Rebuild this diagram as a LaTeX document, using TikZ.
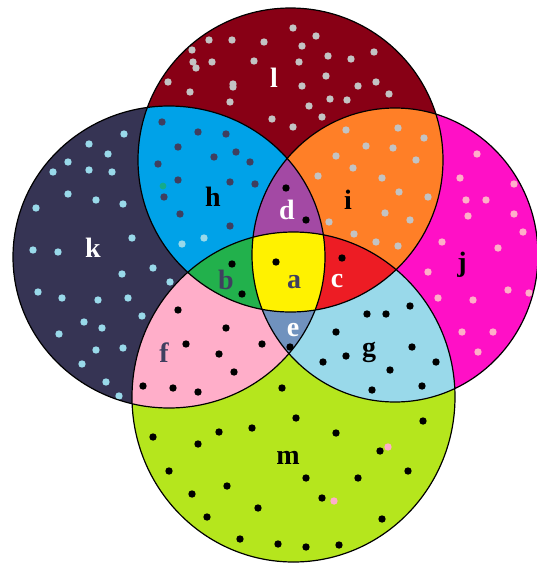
\documentclass[tikz,border=0pt]{standalone}
\usepackage{fontspec}
\setmainfont{Liberation Serif}
\usetikzlibrary{positioning}
\definecolor{onlyT}{RGB}{136,0,21}
\definecolor{onlyL}{RGB}{54,52,84}
\definecolor{onlyR}{RGB}{255,16,198}
\definecolor{onlyB}{RGB}{181,230,29}
\definecolor{pairTL}{RGB}{0,162,232}
\definecolor{pairTR}{RGB}{255,127,39}
\definecolor{pairLB}{RGB}{255,174,201}
\definecolor{pairRB}{RGB}{153,217,234}
\definecolor{tripTLR}{RGB}{163,73,164}
\definecolor{tripTLB}{RGB}{34,177,76}
\definecolor{tripTRB}{RGB}{237,28,36}
\definecolor{tripLRB}{RGB}{112,146,190}
\definecolor{allfour}{RGB}{255,242,0}
\definecolor{dotgrey}{RGB}{195,195,195}
\definecolor{dotnavy}{RGB}{63,63,95}
\def\shapeT{(290.5,160) ellipse [x radius=152.5pt, y radius=152pt]}
\def\shapeL{(169,257) ellipse [x radius=156pt, y radius=151pt]}
\def\shapeR{(395,255) ellipse [x radius=143pt, y radius=147pt]}
\def\shapeB{(293.5,397) ellipse [x radius=161.5pt, y radius=165pt]}

\begin{document}
\begin{tikzpicture}[x=1pt,y=-1pt,
  letter/.style={font=\fontsize{28}{28}\selectfont\bfseries,inner sep=0pt,text=#1},
  spot/.style={fill=#1}]
  \useasboundingbox (0,0) rectangle (537,566);
  \clip (0,0) rectangle (537,566);
  % ---------------- one set only ----------------
  \fill[onlyT] \shapeT;
  \fill[onlyL] \shapeL;
  \fill[onlyR] \shapeR;
  \fill[onlyB] \shapeB;
  % ---------------- two sets ----------------
  \begin{scope} \clip \shapeT; \fill[pairTL] \shapeL; \fill[pairTR] \shapeR; \end{scope}
  \begin{scope} \clip \shapeB; \fill[pairLB] \shapeL; \fill[pairRB] \shapeR; \end{scope}
  % ---------------- three sets ----------------
  \begin{scope} \clip \shapeT; \clip \shapeL; \fill[tripTLR] \shapeR; \end{scope}
  \begin{scope} \clip \shapeT; \clip \shapeL; \fill[tripTLB] \shapeB; \end{scope}
  \begin{scope} \clip \shapeT; \clip \shapeR; \fill[tripTRB] \shapeB; \end{scope}
  \begin{scope} \clip \shapeL; \clip \shapeR; \fill[tripLRB] \shapeB; \end{scope}
  % ---------------- all four ----------------
  \begin{scope} \clip \shapeT; \clip \shapeL; \clip \shapeR; \fill[allfour] \shapeB; \end{scope}
  % ---------------- dots ----------------
  \foreach \px/\py in {293/28, 316/36, 209/40, 232/40, 264/42, 302/46, 192/50, 374/52, 328/56, 351/59,
      193/62, 196/68, 212/62, 254/61, 299/62, 326/76, 168/82, 233/84, 233/87, 302/86, 376/82, 358/86,
      190/92, 389/94, 330/99, 347/100, 230/102, 309/106, 322/117, 272/119, 293/127,
      346/130, 398/128, 424/138, 366/146, 393/148, 336/156, 416/160, 353/168, 318/176, 382/178,
      399/192, 428/197, 385/213, 410/220, 329/222, 354/234, 376/242, 398/246}
    \fill[spot=dotgrey] (\px,\py) circle[radius=3.7pt];
  \foreach \px/\py in {162/122, 198/132, 226/134, 178/147, 236/152, 214/157, 158/164, 250/162,
      178/180, 230/182, 255/184, 164/197, 180/214, 230/226}
    \fill[spot=dotnavy] (\px,\py) circle[radius=3.7pt];
  \fill[spot=pairTL!40!tripTLB] (163,186) circle[radius=3.4pt];
  \foreach \px/\py in {182/244, 204/238, 124/134, 89/144, 108/154, 68/162, 53/172, 89/170, 112/172,
      68/194, 96/200, 123/204, 36/208, 132/238, 33/250, 58/252, 153/268, 122/274, 170/282, 38/292,
      62/298, 98/300, 128/298, 142/316, 84/322, 102/328, 59/334, 96/350, 123/348, 82/364, 106/382, 119/396}
    \fill[spot=pairRB] (\px,\py) circle[radius=3.7pt];
  \foreach \px/\py in {477/154, 460/178, 514/184, 466/200, 486/200, 468/216, 514/214, 523/232,
      442/242, 498/248, 428/272, 508/290, 529/293, 438/298, 473/300, 462/332, 493/332, 478/352,
      388/447, 334/501}
    \fill[spot=pairLB] (\px,\py) circle[radius=3.7pt];
  \foreach \px/\py in {232/264, 242/294, 276/262, 286/188, 306/220, 342/258, 290/347,
      178/310, 226/328, 186/344, 262/344, 219/354, 234/372, 143/386, 173/388, 198/392,
      410/306, 367/314, 386/314, 336/332, 412/347, 346/356, 323/362, 436/362, 390/370, 372/390, 422/386,
      282/388, 296/418, 423/421, 153/437, 219/432, 252/428, 336/433, 198/444, 380/451, 169/471,
      306/478, 358/478, 408/471, 227/486, 192/494, 322/498, 258/508, 207/517, 382/519,
      240/539, 278/544, 306/547, 339/545}
    \fill[spot=black] (\px,\py) circle[radius=3.7pt];
  % ---------------- outlines ----------------
  \draw[line width=1.2pt] \shapeT \shapeL \shapeR \shapeB;
  % ---------------- letters ----------------
  \node[letter=white] (nl) at (274,78) {l};
  \node[letter=black] (nh) at (213,197) {h};
  \node[letter=white] (nk) at (93,248) {k};
  \node[letter=black] (ni) at (348,200) {i};
  \node[letter=black] (nj) at (462,265) {j};
  \node[letter=white] (nd) at (287,210) {d};
  \node[letter=dotnavy] (na) at (294,282) {a};
  \node[letter=dotnavy] (nb) at (226,280) {b};
  \node[letter=white] (nc) at (337,281) {c};
  \node[letter=white] (ne) at (293,330) {e};
  \node[letter=dotnavy] (nf) at (164,353) {f};
  \node[letter=black] (ng) at (369,352) {g};
  \node[letter=black] (nm) at (288,458) {m};
\end{tikzpicture}
\end{document}
